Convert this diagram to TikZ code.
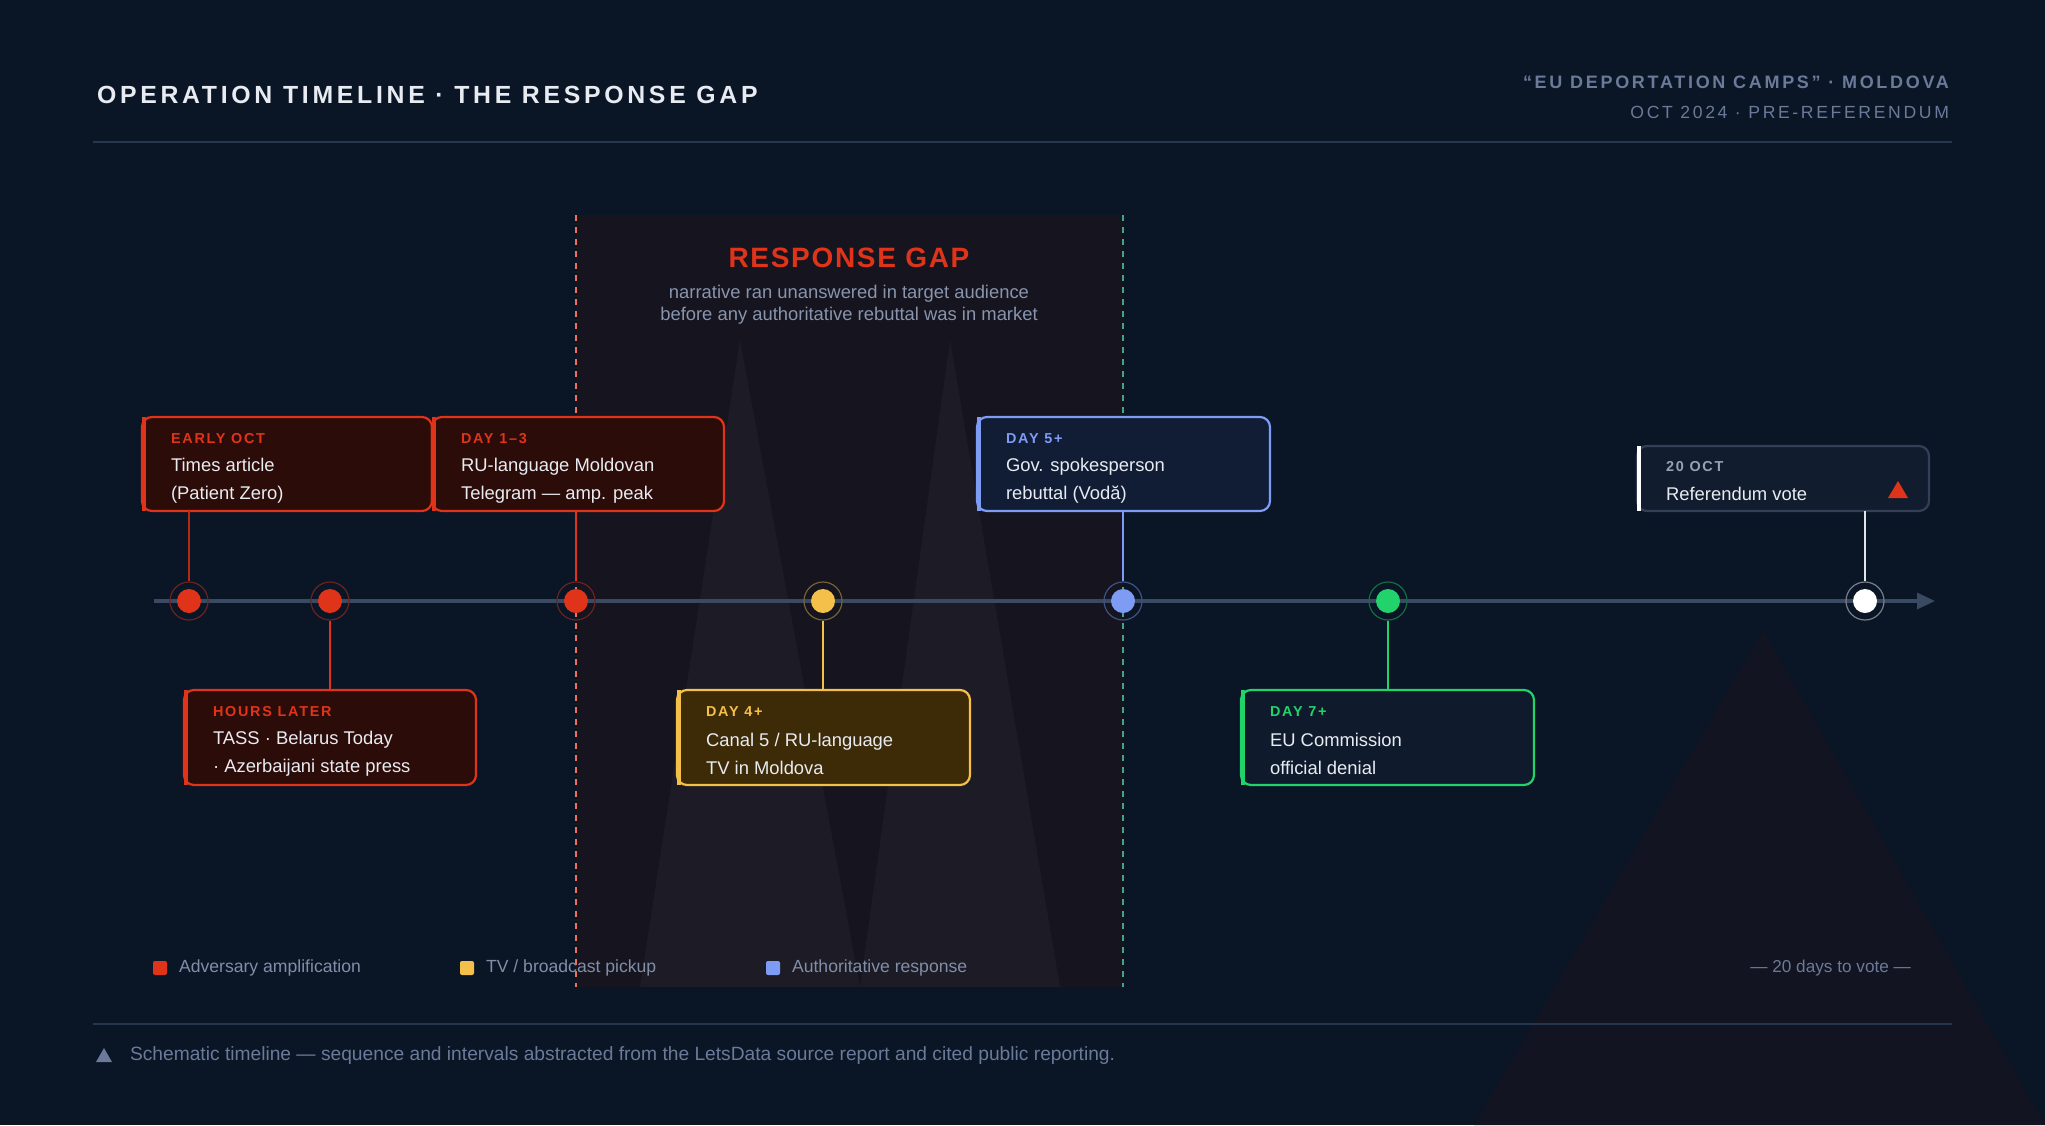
\documentclass[tikz,border=0pt]{standalone}
\usepackage{fontspec}
\setmainfont{Liberation Sans}
\newfontfamily\spc[LetterSpace=12]{Liberation Sans}
\newfontfamily\spb[LetterSpace=15]{Liberation Sans}
\newfontfamily\spg[LetterSpace=6]{Liberation Sans}
\usetikzlibrary{arrows.meta}
\definecolor{bg}{HTML}{0A1526}
\definecolor{gapbg}{HTML}{15141F}
\definecolor{rd}{HTML}{E0341A}
\definecolor{rdf}{HTML}{2B0C08}
\definecolor{yl}{HTML}{F5C04A}
\definecolor{ylf}{HTML}{3D2A07}
\definecolor{bl}{HTML}{7F9CF5}
\definecolor{blf}{HTML}{111D35}
\definecolor{gr}{HTML}{22D36B}
\definecolor{grf}{HTML}{0F1B2C}
\definecolor{wb}{HTML}{343F57}
\definecolor{wf}{HTML}{111C2E}
\definecolor{mut}{HTML}{6B7A99}
\definecolor{axis}{HTML}{3A4A63}
\definecolor{txt}{HTML}{E8ECF2}
\definecolor{rule}{HTML}{27364F}
\begin{document}
\begin{tikzpicture}[x=0.5pt,y=-0.5pt,
  tag/.style={anchor=west,font=\spc\bfseries\fontsize{7.2}{8}\selectfont},
  body/.style={anchor=west,text=txt,font=\fontsize{9.2}{10}\selectfont},
  dotc/.style={circle,inner sep=0pt,minimum size=12pt},
  ring/.style={circle,inner sep=0pt,minimum size=19pt,draw,line width=0.6pt},
  leg/.style={anchor=west,text=mut!85!white,font=\fontsize{8.8}{10}\selectfont}]
\fill[bg] (0,0) rectangle (2045,1125);
\useasboundingbox (0,0) rectangle (2045,1125);
% background triangles
\fill[gapbg!70!bg] (1763,630) -- (2045,1125) -- (1474,1125) -- cycle;
% gap band
\fill[gapbg] (576,215) rectangle (1123,987);
\fill[gapbg!97!white] (640,987) -- (740,340) -- (860,987) -- cycle;
\fill[gapbg!97!white] (860,987) -- (950,340) -- (1060,987) -- cycle;
\draw[rd!70,line width=0.6pt,dash pattern=on 3pt off 3pt] (576,215) -- (576,987);
\draw[gr!45!mut,line width=0.6pt,dash pattern=on 3pt off 3pt] (1123,215) -- (1123,987);
% header
\node[anchor=west,text=txt,font=\spb\bfseries\fontsize{12.4}{14}\selectfont] (title) at (90,95) {OPERATION TIMELINE · THE RESPONSE GAP};
\node[anchor=east,text=mut,font=\spb\bfseries\fontsize{9}{10}\selectfont] (h1) at (1956,82) {“EU DEPORTATION CAMPS” · MOLDOVA};
\node[anchor=east,text=mut,font=\spb\fontsize{8.8}{10}\selectfont] (h2) at (1956,112) {OCT 2024 · PRE-REFERENDUM};
\draw[rule,line width=0.8pt] (93,142) -- (1952,142);
% gap title
\node[text=rd,font=\spg\bfseries\fontsize{14}{16}\selectfont] (gt) at (849,258) {RESPONSE GAP};
\node[text=mut!80!white,font=\fontsize{9.2}{11}\selectfont,align=center] (gs) at (849,305) {narrative ran unanswered in target audience\\[0pt]before any authoritative rebuttal was in market};
% axis
\coordinate (a0) at (154,601); \coordinate (a1) at (1935,601);
\draw[axis,line width=1.6pt,-{Triangle[length=9pt,width=8pt]}] (a0) -- (a1);
% events
\foreach \n/\x/\c in {d1/189/rd,d2/330/rd,d3/576/rd,d4/823/yl,d5/1123/bl,d6/1388/gr,d7/1865/white}{
  \node[ring,draw=\c!45!bg] (r\n) at (\x,601) {};
  \node[dotc,fill=\c] (\n) at (\x,601) {};
}
\newcommand\evbox[9]{%
  \draw[#6,fill=#7,line width=1.1pt,rounded corners=5pt] (#2,#3) rectangle (#4,#5);
  \fill[#6] (#2,#3) rectangle (#2+4,#5);
  \node[tag,text=#6] (#1t) at (#2+22,#3+22) {#8};
  \node[body,align=left] (#1b) at (#2+22,#3+64) {#9};
  \coordinate (#1) at ({(#2+#4)/2},#3);
}
\evbox{b1}{142}{417}{432}{511}{rd}{rdf}{EARLY OCT}{Times article\\[4pt](Patient Zero)}
\evbox{b2}{432}{417}{724}{511}{rd}{rdf}{DAY 1–3}{RU-language Moldovan\\[4pt]Telegram — amp. peak}
\evbox{b3}{184}{690}{476}{785}{rd}{rdf}{HOURS LATER}{TASS · Belarus Today\\[4pt]· Azerbaijani state press}
\evbox{b4}{677}{690}{970}{785}{yl}{ylf}{DAY 4+}{Canal 5 / RU-language\\[4pt]TV in Moldova}
\evbox{b5}{977}{417}{1270}{511}{bl}{blf}{DAY 5+}{Gov. spokesperson\\[4pt]rebuttal (Vodă)}
\evbox{b6}{1241}{690}{1534}{785}{gr}{grf}{DAY 7+}{EU Commission\\[4pt]official denial}
\draw[wb,fill=wf,line width=1.1pt,rounded corners=5pt] (1637,446) rectangle (1929,511);
\fill[white] (1637,446) rectangle (1641,511);
\node[tag,text=mut!70!white] (b7t) at (1659,467) {20 OCT};
\node[body] (b7b) at (1659,494) {Referendum vote};
\fill[rd] (1898,481) -- (1908,498) -- (1888,498) -- cycle;
% connectors
\draw[rd!80!black,line width=1pt] (189,511) -- (rd1);
\draw[rd,line width=1pt] (576,511) -- (rd3);
\draw[rd,line width=1pt] (rd2) -- (330,690);
\draw[yl,line width=1pt] (rd4) -- (823,690);
\draw[bl,line width=1pt] (1123,511) -- (rd5);
\draw[gr,line width=1pt] (rd6) -- (1388,690);
\draw[white!80!mut,line width=0.7pt] (1865,511) -- (rd7);
% legend
\fill[rd,rounded corners=1pt] (153,961) rectangle (167,975);
\node[leg] (l1) at (172,968) {Adversary amplification};
\fill[yl,rounded corners=1pt] (460,961) rectangle (474,975);
\node[leg] (l2) at (479,968) {TV / broadcast pickup};
\fill[bl,rounded corners=1pt] (766,961) rectangle (780,975);
\node[leg] (l3) at (785,968) {Authoritative response};
\node[anchor=east,text=mut,font=\fontsize{8.6}{10}\selectfont] (dv) at (1918,968) {— 20 days to vote —};
\draw[rule,line width=0.8pt] (93,1024) -- (1952,1024);
\fill[mut] (104,1048) -- (112,1062) -- (96,1062) -- cycle;
\node[anchor=west,text=mut,font=\fontsize{9.6}{11}\selectfont] (ft) at (123,1056) {Schematic timeline — sequence and intervals abstracted from the LetsData source report and cited public reporting.};
\end{tikzpicture}
\end{document}
